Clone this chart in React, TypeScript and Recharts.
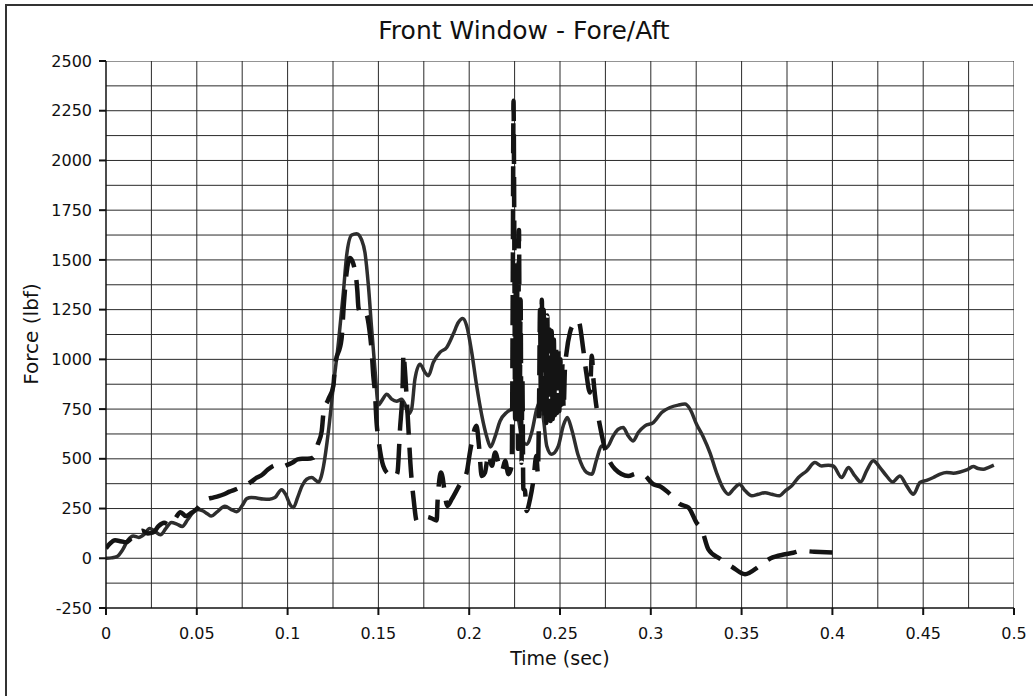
import { LineChart, Line, XAxis, YAxis, ReferenceLine } from 'recharts';

// time (sec) / force (lbf)
const solidTime = [
    0, 0.003, 0.006, 0.009, 0.012, 0.015, 0.018, 0.021, 0.024, 0.027, 0.03, 0.033, 0.036, 0.039, 0.042, 0.045, 0.048,
    0.05, 0.053, 0.056, 0.058, 0.061, 0.0655, 0.069, 0.072, 0.075, 0.0775, 0.08, 0.083, 0.0865, 0.09, 0.093, 0.0967,
    0.099, 0.1015, 0.1032, 0.1055, 0.108, 0.1105, 0.1133, 0.1155, 0.117, 0.1185, 0.1198, 0.1224, 0.1252, 0.128, 0.1307,
    0.1325, 0.1353, 0.138, 0.1408, 0.1426, 0.1445, 0.1463, 0.1481, 0.15, 0.1518, 0.1546, 0.1573, 0.16, 0.1628, 0.1646,
    0.1665, 0.1683, 0.1701, 0.1729, 0.1757, 0.1775, 0.1802, 0.1839, 0.1876, 0.1912, 0.194, 0.1964, 0.1986, 0.2014,
    0.2041, 0.2069, 0.2097, 0.2118, 0.2142, 0.217, 0.2206, 0.2243, 0.2271, 0.229, 0.2316, 0.2344, 0.2372, 0.2387, 0.2409,
    0.2427, 0.2454, 0.2491, 0.2518, 0.254, 0.2564, 0.2601, 0.2647, 0.2675, 0.2702, 0.2729, 0.2757, 0.2793, 0.2821,
    0.2848, 0.2876, 0.2903, 0.2931, 0.2968, 0.3014, 0.306, 0.3106, 0.3151, 0.3188, 0.3216, 0.3252, 0.3289, 0.3326,
    0.3362, 0.3399, 0.3427, 0.3455, 0.3488, 0.352, 0.3556, 0.3592, 0.3629, 0.3666, 0.3708, 0.374, 0.3776, 0.3813,
    0.3858, 0.3904, 0.3941, 0.3978, 0.4005, 0.4051, 0.4088, 0.4124, 0.4156, 0.4188, 0.4225, 0.4262, 0.4298, 0.4332,
    0.4372, 0.4409, 0.4446, 0.4482, 0.4519, 0.4556, 0.4593, 0.4629, 0.4666, 0.4703, 0.4739, 0.4776, 0.4803, 0.4831,
    0.4858, 0.4889,
];
const solidForce = [
    0, 2, 8, 40, 90, 112, 105, 120, 150, 135, 118, 150, 180, 172, 160, 195, 232,
    245, 240, 222, 212, 232, 262, 245, 234, 265, 300, 306, 303, 298, 297, 305, 345,
    320, 268, 255, 305, 365, 397, 406, 392, 382, 410, 464, 632, 867, 1085, 1336,
    1521, 1625, 1632, 1600, 1537, 1370, 1152, 951, 770, 791, 825, 800, 790, 800, 775,
    724, 750, 900, 976, 934, 917, 984, 1035, 1060, 1127, 1185, 1205, 1169, 1035,
    867, 720, 610, 560, 610, 690, 733, 750, 699, 599, 573, 632, 750, 783, 699,
    565, 523, 565, 666, 708, 649, 515, 431, 423, 498, 565, 557, 615, 649,
    657, 615, 590, 632, 666, 682, 733, 758, 770, 775, 750, 674, 610, 530,
    430, 350, 322, 347, 372, 339, 314, 322, 330, 322, 314, 339, 364, 406,
    439, 481, 464, 468, 464, 406, 456, 414, 384, 439, 490, 456, 414, 384,
    414, 364, 322, 381, 392, 406, 423, 431, 428, 434, 444, 461, 451, 448,
    456, 468,
];

const dashedTime = [
    0, 0.002, 0.005, 0.008, 0.011, 0.014, 0.017, 0.02, 0.023, 0.026, 0.029, 0.032, 0.035, 0.038, 0.041, 0.044, 0.047,
    0.05, 0.053, 0.056, 0.059, 0.062, 0.065, 0.068, 0.071, 0.074, 0.077, 0.08, 0.083, 0.086, 0.089, 0.092, 0.0945,
    0.097, 0.0995, 0.1025, 0.1055, 0.108, 0.111, 0.1142, 0.1165, 0.1188, 0.1198, 0.1225, 0.1252, 0.1261, 0.1297, 0.131,
    0.1325, 0.1344, 0.1362, 0.1384, 0.139, 0.1408, 0.1432, 0.145, 0.1463, 0.1472, 0.1481, 0.149, 0.15, 0.1527, 0.156,
    0.159, 0.1605, 0.1619, 0.1634, 0.1638, 0.1645, 0.1656, 0.1665, 0.1676, 0.1695, 0.1711, 0.1735, 0.1766, 0.1795,
    0.1821, 0.1826, 0.1845, 0.188, 0.1904, 0.1945, 0.1986, 0.2004, 0.204, 0.2054, 0.2069, 0.2087, 0.2106, 0.2125,
    0.2143, 0.2161, 0.218, 0.2198, 0.2216, 0.2234, 0.224, 0.2244, 0.2249, 0.2253, 0.2257, 0.2261, 0.2265, 0.2269,
    0.2274, 0.2279, 0.2283, 0.2288, 0.2293, 0.2298, 0.2307, 0.2316, 0.2335, 0.2353, 0.237, 0.2378, 0.2385, 0.239,
    0.2395, 0.24, 0.2405, 0.241, 0.2415, 0.242, 0.2425, 0.243, 0.2436, 0.2442, 0.2448, 0.2454, 0.246, 0.2466, 0.2472,
    0.2478, 0.2484, 0.249, 0.2496, 0.2502, 0.2508, 0.2514, 0.252, 0.2527, 0.2536, 0.2555, 0.2578, 0.2601, 0.2628,
    0.2645, 0.2665, 0.2675, 0.2684, 0.2693, 0.272, 0.2739, 0.2803, 0.2876, 0.292, 0.2959, 0.3014, 0.3055, 0.3097,
    0.3161, 0.3207, 0.3252, 0.328, 0.3317, 0.3385, 0.345, 0.3519, 0.3598, 0.366, 0.3739, 0.3785, 0.3827, 0.39, 0.4,
];
const dashedForce = [
    50, 72, 90, 86, 80, 100, 118, 138, 125, 130, 162, 178, 168, 198, 232, 212, 228,
    248, 280, 298, 305, 312, 322, 335, 345, 357, 368, 385, 405, 420, 445, 464, 470,
    460, 468, 480, 497, 500, 500, 506, 570, 640, 733, 800, 867, 967, 1102, 1280,
    1437, 1510, 1480, 1345, 1261, 1219, 1227, 1152, 1040, 917, 833, 682, 600, 464, 420,
    410, 431, 649, 884, 1030, 960, 800, 657, 480, 288, 188, 196, 208, 200,
    190, 288, 431, 263, 297, 365, 431, 532, 666, 565, 414, 431, 523, 465,
    532, 481, 439, 490, 423, 465, 1400, 2300, 1500, 700, 1450, 800, 1350, 550,
    1650, 850, 1300, 480, 900, 350, 340, 238, 297, 389, 515, 430, 800, 1250,
    780, 1300, 720, 1250, 700, 1200, 680, 1220, 720, 1150, 690, 1143, 700, 1100, 720,
    1080, 730, 1050, 740, 1000, 760, 980, 750, 950, 1035, 1135, 1180, 1194, 1051,
    930, 833, 1018, 900, 817, 666, 582, 448, 414, 425, 420, 372, 360, 330,
    272, 255, 179, 146, 45, -5, -45, -80, -39, 0, 20, 28, 37, 33, 29,
];

const xTicks = [0, 0.05, 0.1, 0.15, 0.2, 0.25, 0.3, 0.35, 0.4, 0.45, 0.5];
const yTicks = [-250, 0, 250, 500, 750, 1000, 1250, 1500, 1750, 2000, 2250, 2500];
const xGrid = [0.025, 0.05, 0.075, 0.1, 0.125, 0.15, 0.175, 0.2, 0.225, 0.25, 0.275, 0.3, 0.325, 0.35, 0.375, 0.4, 0.425, 0.45, 0.475, 0.5];
const yGrid = [-125, 0, 125, 250, 375, 500, 625, 750, 875, 1000, 1125, 1250, 1375, 1500, 1625, 1750, 1875, 2000, 2125, 2250, 2375, 2500];

const solidData = solidTime.map((t, i) => ({ t, force: solidForce[i] }));
const dashedData = dashedTime.map((t, i) => ({ t, force: dashedForce[i] }));

const font = '"DejaVu Sans", sans-serif';
const tickStyle = { fontSize: 16, fontFamily: font, fill: '#111' };

export default function App() {
    return (
        <div style={{ position: 'absolute', left: 0, top: 0, width: 1033, height: 696, background: '#fff', overflow: 'hidden' }}>
            <div style={{ position: 'absolute', left: 5, top: 4, width: 1100, height: 800, borderLeft: '2px solid #333', borderTop: '2px solid #333' }} />
            <LineChart width={1033} height={696} margin={{ top: 61, right: 19, bottom: 58, left: 46 }}>
                {xGrid.map((x) => (
                    <ReferenceLine key={'x' + x} x={x} stroke="#2a2a2a" strokeWidth={1} ifOverflow="hidden" />
                ))}
                {yGrid.map((y) => (
                    <ReferenceLine key={'y' + y} y={y} stroke="#2a2a2a" strokeWidth={1} ifOverflow="hidden" />
                ))}
                <XAxis type="number" dataKey="t" domain={[0, 0.5]} ticks={xTicks} interval={0} allowDataOverflow height={30}
                    tickSize={7} tickMargin={13} tick={tickStyle} axisLine={{ stroke: '#111', strokeWidth: 1.5 }} tickLine={{ stroke: '#111', strokeWidth: 2 }} />
                <YAxis type="number" domain={[-250, 2500]} ticks={yTicks} interval={0} allowDataOverflow width={60}
                    tickSize={7} tickMargin={7} tick={tickStyle} axisLine={{ stroke: '#111', strokeWidth: 1.5 }} tickLine={{ stroke: '#111', strokeWidth: 2 }} />
                <Line data={solidData} dataKey="force" type="monotone" stroke="#2e2e2e" strokeWidth={3.5} dot={false} isAnimationActive={false} />
                <Line data={dashedData} dataKey="force" type="monotone" stroke="#141414" strokeWidth={4.5} strokeDasharray="30 13" dot={false} isAnimationActive={false} />
            </LineChart>
            <div style={{ position: 'absolute', left: 0, width: 1048, top: 16, textAlign: 'center', fontFamily: font, fontSize: 25, color: '#111' }}>
                Front Window - Fore/Aft
            </div>
            <div style={{ position: 'absolute', left: 106, width: 908, top: 647, textAlign: 'center', fontFamily: font, fontSize: 19, color: '#111' }}>
                Time (sec)
            </div>
            <div style={{ position: 'absolute', left: 31, top: 334, width: 200, marginLeft: -100, marginTop: -12, textAlign: 'center', transform: 'rotate(-90deg)', fontFamily: font, fontSize: 20, lineHeight: '24px', color: '#111' }}>
                Force (lbf)
            </div>
        </div>
    );
}
